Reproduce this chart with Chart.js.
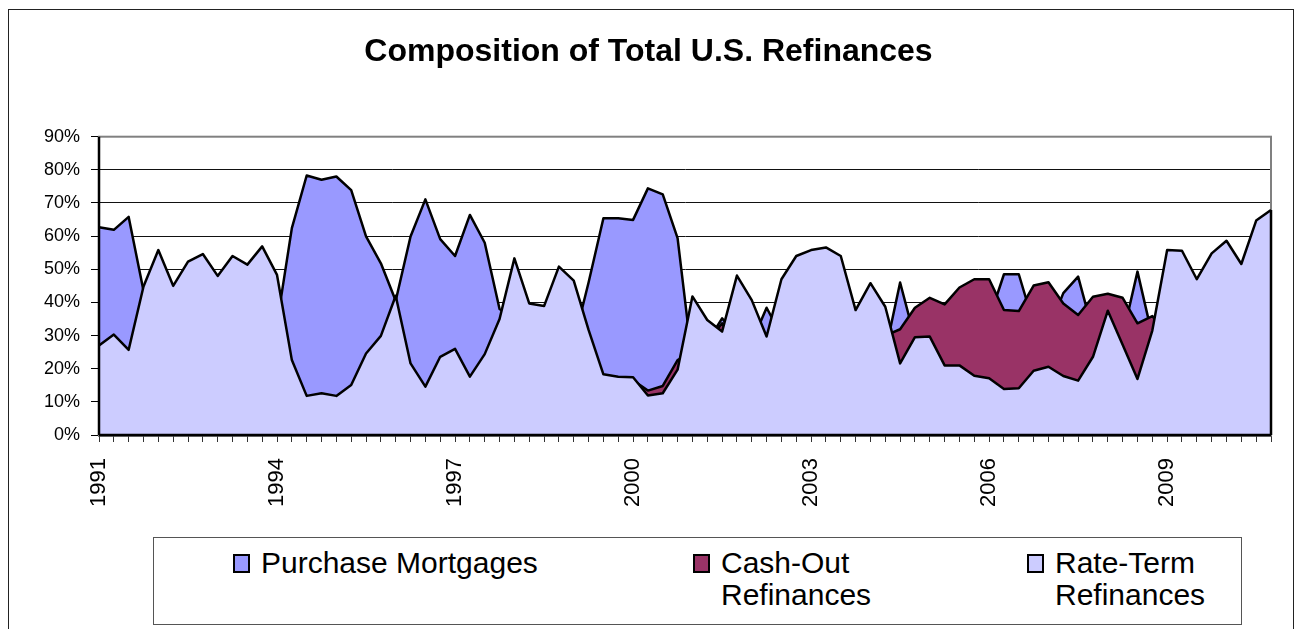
<!DOCTYPE html>
<html>
<head>
<meta charset="utf-8">
<script src="https://cdn.jsdelivr.net/npm/chart.js@4.4.1/dist/chart.umd.min.js"></script>
<style>
  html, body { margin: 0; padding: 0; background: #fff; }
  #wrap { position: relative; width: 1297px; height: 629px; overflow: hidden; font-family: "Liberation Sans", Arial, sans-serif; }
  #c { position: absolute; left: 0; top: 0; }
  #frame { position: absolute; left: 8px; top: 9px; width: 1284px; height: 660px; border: 1px solid #222; pointer-events: none; }
  #legend { position: absolute; left: 153px; top: 537px; width: 1087px; height: 86px; border: 1px solid #555; background: #fff; }
  .lg-text { position: absolute; top: 9px; font-size: 30px; line-height: 32px; color: #000; white-space: nowrap; }
  .lg-box { position: absolute; top: 16px; width: 13px; height: 15px; border: 2px solid #000; }
</style>
</head>
<body>
<div id="wrap">
  <canvas id="c" width="1297" height="629"></canvas>
  <div id="frame"></div>
  <div id="legend"></div>
</div>
<script>
'use strict';

// ── Data (quarterly shares, %) ────────────────────────────
const quarters = [];
for (let y = 1991; y <= 2010; y++) for (let q = 1; q <= 4; q++) quarters.push(y + ' Q' + q);

const yearLabels = ['1991', '1994', '1997', '2000', '2003', '2006', '2009'];
const yTicks = [0, 10, 20, 30, 40, 50, 60, 70, 80, 90];

const purchase = [
  62.7, 61.9, 65.8, 43.5, 40, 38, 40, 42, 40, 42,
  40, 38, 33.6, 62.4, 78.3, 77.0, 78.0, 73.9, 59.9, 51.8,
  40.5, 59.9, 71.1, 59.1, 54.0, 66.4, 58.0, 38.0, 35, 33,
  32, 30, 28, 46.0, 65.4, 65.4, 64.9, 74.4, 72.6, 59.4,
  22, 28, 35.2, 30, 28, 38.4, 30, 32, 33, 33,
  32, 28, 30, 25, 46.0, 29, 35, 33, 38, 40,
  35, 48.5, 48.5, 33.5, 31.5, 42.8, 47.8, 31.2, 32, 29.8,
  49.3, 29.9, 32, 33, 32, 34, 35, 33, 36, 38
];

const cashOut = [
  10, 11, 10, 12, 12, 12, 12, 12, 12, 12,
  12, 12, 11, 10, 8, 8, 8, 9, 10, 11,
  12, 12, 11, 12, 13, 13, 13, 14, 15, 15,
  15, 15, 15, 15, 15, 15, 16.5, 13.4, 14.8, 22.6,
  25, 28, 33.7, 28, 27, 27, 25, 24, 24, 25,
  26, 27, 28, 30, 31.9, 38.4, 41.4, 39.4, 44.5, 47.0,
  47.0, 37.7, 37.4, 45.1, 46.1, 39.7, 36.2, 41.7, 42.6, 41.4,
  33.7, 35.9, 30, 28, 27, 27, 27, 26, 26, 26
];

const rateTerm = [
  27.0, 30.3, 25.7, 44.8, 55.8, 45.0, 52.3, 54.6, 48.0, 54.0,
  51.4, 56.9, 48.3, 22.6, 11.8, 12.6, 11.8, 15.1, 24.6, 29.9,
  42.0, 21.6, 14.6, 23.6, 26.0, 17.6, 24.4, 35.0, 53.3, 39.7,
  38.9, 50.8, 46.6, 31.7, 18.3, 17.6, 17.4, 11.9, 12.6, 19.7,
  41.8, 34.7, 31.2, 48.1, 40.7, 29.7, 47.0, 54.0, 55.8, 56.6,
  54.0, 37.7, 45.8, 38.7, 21.6, 29.5, 29.7, 21.0, 21.0, 17.9,
  17.1, 13.9, 14.1, 19.4, 20.6, 17.8, 16.4, 23.6, 37.5, 27.2,
  16.9, 31.5, 55.8, 55.6, 47.0, 54.8, 58.6, 51.6, 64.7, 67.9
];

const SERIES = [
  { label: 'Purchase Mortgages', lines: ['Purchase Mortgages'], data: purchase, color: '#9999FF', order: 3 },
  { label: 'Cash-Out Refinances', lines: ['Cash-Out', 'Refinances'], data: cashOut, color: '#993366', order: 2 },
  { label: 'Rate-Term Refinances', lines: ['Rate-Term', 'Refinances'], data: rateTerm, color: '#CCCCFF', order: 1 },
];

// ── Helpers ───────────────────────────────────────────────
const $ = id => document.getElementById(id);
const FONT = '"Liberation Sans", Arial, sans-serif';
Chart.defaults.font.family = FONT;
Chart.defaults.color = '#000';

// plot frame behind the areas, axis lines and right edge drop on top
const edges = {
  id: 'edges',
  beforeDatasetsDraw(chart) {
    const { ctx, chartArea: a } = chart;
    ctx.save();
    ctx.strokeStyle = '#808080';
    ctx.lineWidth = 2;
    ctx.strokeRect(a.left, a.top, a.right - a.left, a.bottom - a.top);
    ctx.restore();
  },
  afterDatasetsDraw(chart) {
    const { ctx, chartArea: a, scales: { y } } = chart;
    const pts = chart.getDatasetMeta(2).data;
    const last = pts[pts.length - 1];
    ctx.save();
    ctx.strokeStyle = '#000';
    ctx.lineWidth = 2.5;
    ctx.beginPath();
    ctx.moveTo(last.x, last.y); ctx.lineTo(last.x, y.getPixelForValue(0));
    ctx.moveTo(a.left, a.top); ctx.lineTo(a.left, a.bottom);
    ctx.moveTo(a.left, a.bottom); ctx.lineTo(a.right, a.bottom);
    ctx.stroke();
    ctx.restore();
  }
};

// ── Chart ─────────────────────────────────────────────────
new Chart($('c').getContext('2d'), {
  type: 'line',
  data: {
    labels: quarters,
    datasets: SERIES.map(s => ({
      label: s.label, data: s.data, order: s.order,
      backgroundColor: s.color, borderColor: '#000', borderWidth: 2.5,
      borderJoinStyle: 'round', fill: 'origin', tension: 0, pointRadius: 0
    }))
  },
  options: {
    responsive: false, animation: false,
    layout: { padding: { left: 0, right: 0, top: 0, bottom: 114 } },
    plugins: {
      legend: { display: false },
      tooltip: { enabled: false },
      title: {
        display: true, text: 'Composition of Total U.S. Refinances', color: '#000',
        font: { size: 32, weight: 'bold', family: FONT },
        padding: { top: 33, bottom: 65.3 }
      }
    },
    scales: {
      x: {
        grid: { display: true, drawOnChartArea: false, tickLength: 7, tickColor: '#333', tickWidth: 1 },
        border: { display: true, color: '#000', width: 2.5 },
        ticks: {
          autoSkip: false, maxRotation: 90, minRotation: 90, padding: 16,
          font: { size: 22 }, color: '#000',
          callback: (v, i) => {
            const yr = quarters[i].slice(0, 4);
            return quarters[i].endsWith('Q1') && yearLabels.includes(yr) ? yr : '';
          }
        },
        afterFit: s => { s.height = 80; s.paddingLeft = 0; s.paddingRight = 0; }
      },
      y: {
        min: 0, max: 90,
        afterBuildTicks: s => { s.ticks = yTicks.map(v => ({ value: v })); },
        grid: {
          color: c => c.tick && c.tick.value === 90 ? '#808080' : '#111',
          lineWidth: 1, tickLength: 8, tickColor: '#000'
        },
        border: { display: true, color: '#000', width: 2 },
        ticks: { padding: 11, font: { size: 18 }, color: '#000', callback: v => v + '%' },
        afterFit: s => { s.width = 99; }
      },
      pad: {
        type: 'linear', position: 'right', display: true,
        grid: { display: false }, border: { display: false }, ticks: { display: false },
        afterFit: s => { s.width = 26; s.paddingTop = 0; s.paddingBottom = 0; }
      }
    }
  },
  plugins: [edges]
});

// ── Legend ────────────────────────────────────────────────
const LEGEND_X = [79, 539, 873];
$('legend').innerHTML = SERIES.map((s, i) => `
  <div class="lg-box" style="left:${LEGEND_X[i]}px;background:${s.color}"></div>
  <div class="lg-text" style="left:${LEGEND_X[i] + 28}px">${s.lines.join('<br>')}</div>`).join('');
</script>
</body>
</html>
